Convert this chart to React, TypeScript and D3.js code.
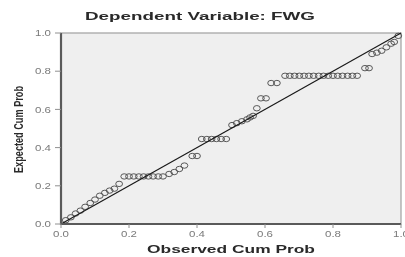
import React from "react";
import * as d3 from "d3";

const W = 405;
const H = 257;

const title = "Dependent Variable: FWG";
const xLabel = "Observed Cum Prob";
const yLabel = "Expected Cum Prob";
const tickValues = [0, 0.2, 0.4, 0.6, 0.8, 1.0];

// Observed cumulative probability (x) of each residual point
const observed = [
  0.014, 0.029, 0.043, 0.057, 0.071, 0.086, 0.1, 0.114, 0.129, 0.143, 0.157,
  0.171,
  0.186, 0.2, 0.214, 0.229, 0.243, 0.257, 0.271, 0.286, 0.3,
  0.318, 0.333, 0.348, 0.363,
  0.386, 0.4,
  0.414, 0.429, 0.443, 0.457, 0.471, 0.486,
  0.503, 0.517, 0.532, 0.547, 0.556, 0.565,
  0.576,
  0.588, 0.603,
  0.618, 0.635,
  0.659, 0.673, 0.687, 0.701, 0.715, 0.729, 0.743, 0.758, 0.772, 0.786, 0.8, 0.814, 0.828, 0.843, 0.857, 0.871,
  0.894, 0.906,
  0.915, 0.929, 0.943, 0.957, 0.971, 0.98,
  0.992,
];

// Expected cumulative probability (y) of each residual point
const expected = [
  0.02, 0.035, 0.055, 0.07, 0.09, 0.11, 0.128, 0.148, 0.163, 0.175, 0.185,
  0.21,
  0.249, 0.249, 0.249, 0.249, 0.249, 0.249, 0.249, 0.249, 0.249,
  0.262, 0.272, 0.288, 0.306,
  0.356, 0.356,
  0.445, 0.445, 0.445, 0.445, 0.445, 0.445,
  0.518, 0.528, 0.538, 0.548, 0.558, 0.566,
  0.606,
  0.658, 0.658,
  0.738, 0.738,
  0.776, 0.776, 0.776, 0.776, 0.776, 0.776, 0.776, 0.776, 0.776, 0.776, 0.776, 0.776, 0.776, 0.776, 0.776, 0.776,
  0.816, 0.816,
  0.89, 0.897, 0.907, 0.925, 0.944, 0.953,
  0.985,
];

export default function App() {
  const x0 = 61, x1 = 401, y0 = 224, y1 = 33;
  const x = d3.scaleLinear().domain([0, 1]).range([x0, x1]);
  const y = d3.scaleLinear().domain([0, 1]).range([y0, y1]);
  const fmt = d3.format(".1f");
  const pts = observed.map((o, i) => [o, expected[i]] as [number, number]);
  const line = d3.line<[number, number]>().x((d) => x(d[0])).y((d) => y(d[1]));

  return (
    <div style={{ position: "fixed", left: 0, top: 0 }}>
      <svg width={W} height={H} style={{ display: "block", fontFamily: "Arial, 'Liberation Sans', sans-serif" }}>
        <defs>
          <filter id="soft" x="-5%" y="-5%" width="110%" height="110%">
            <feGaussianBlur stdDeviation="0.45" />
          </filter>
        </defs>
        <rect x={0} y={0} width={W} height={H} fill="#ffffff" />
        <g filter="url(#soft)">
          <rect x={x0} y={y1} width={x1 - x0} height={y0 - y1} fill="#efefef" stroke="#a0a0a0" strokeWidth={1.2} />
          {pts.map((d, i) => (
            <ellipse key={i} cx={x(d[0])} cy={y(d[1])} rx={3.4} ry={2.7} fill="none" stroke="#505050" strokeWidth={0.95} />
          ))}
          <path d={line([[0, 0], [1, 1]]) || ""} stroke="#1a1a1a" strokeWidth={1.2} fill="none" />
          <line x1={x0} x2={x0} y1={y1} y2={y0 + 1} stroke="#5a5a5a" strokeWidth={2.2} />
          <line x1={x0 - 1} x2={x1} y1={y0} y2={y0} stroke="#5a5a5a" strokeWidth={2.2} />
          {tickValues.map((t) => (
            <g key={"y" + t}>
              <line x1={x0 - 6} x2={x0} y1={y(t)} y2={y(t)} stroke="#909090" strokeWidth={1} />
              <text x={35} y={y(t) + 3.2} fontSize={8.5} fill="#7a7a7a" textLength={16} lengthAdjust="spacingAndGlyphs">
                {fmt(t)}
              </text>
            </g>
          ))}
          {tickValues.map((t) => (
            <g key={"x" + t}>
              <line x1={x(t)} x2={x(t)} y1={y0} y2={y0 + 4} stroke="#909090" strokeWidth={1} />
              <text x={x(t) - 8} y={236.5} fontSize={8.5} fill="#7a7a7a" textLength={16} lengthAdjust="spacingAndGlyphs">
                {fmt(t)}
              </text>
            </g>
          ))}
          <text x={85} y={19.5} fontSize={11.5} fontWeight="bold" fill="#2a2a2a" textLength={230} lengthAdjust="spacingAndGlyphs">
            {title}
          </text>
          <text x={147} y={253} fontSize={11.5} fontWeight="bold" fill="#2a2a2a" textLength={168} lengthAdjust="spacingAndGlyphs">
            {xLabel}
          </text>
          <g transform="translate(23,173) scale(1.4,1) rotate(-90)">
            <text x={0} y={0} fontSize={9.5} fontWeight="bold" fill="#2a2a2a" textLength={87} lengthAdjust="spacingAndGlyphs">
              {yLabel}
            </text>
          </g>
        </g>
      </svg>
    </div>
  );
}
